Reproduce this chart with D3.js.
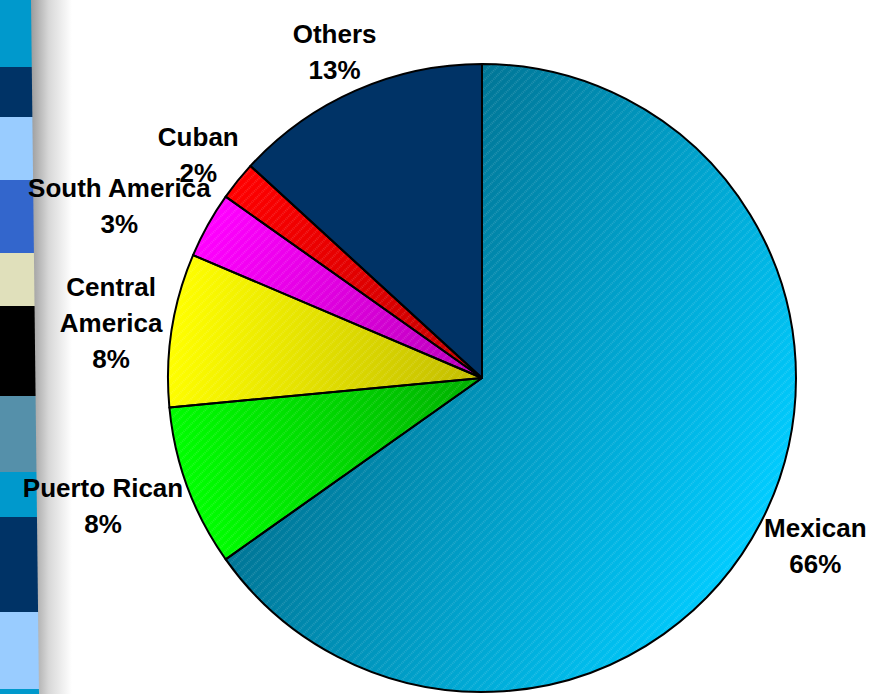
<!DOCTYPE html>
<html>
<head>
<meta charset="utf-8">
<script src="https://cdn.jsdelivr.net/npm/d3@7"></script>
<style>
  html, body { margin: 0; padding: 0; background: #fff; }
  svg { display: block; }
  .label { font-family: "Liberation Sans", Arial, sans-serif; font-weight: bold; font-size: 26px; fill: #000; }
</style>
</head>
<body>
<div id="chart"></div>
<script>
// slice data, clockwise from 12 o'clock
var categories = ["Mexican", "Puerto Rican", "Central America", "South America", "Cuban", "Others"],
    labelLines = [["Mexican"], ["Puerto Rican"], ["Central", "America"], ["South America"], ["Cuban"], ["Others"]],
    shares = [65.2, 8.3, 7.9, 3.4, 2.0, 13.2],
    pctLabels = ["66%", "8%", "8%", "3%", "2%", "13%"],
    rimColors = ["#00ccff", "#00ff00", "#ffff00", "#ff00ff", "#ff0000", "#003366"],
    coreColors = ["#006a88", "#007a00", "#9a9000", "#8a008a", "#990000", "#003366"];

// slide decoration strip on the left (colour, bottom edge)
var stripColors = ["#0099cc", "#003366", "#99ccff", "#3366cc", "#e0e0bb", "#000000",
                   "#5590aa", "#0099cc", "#003366", "#99ccff", "#0099cc"],
    stripEnds = [67, 117, 180, 253, 306, 396, 472, 517, 612, 689, 694];

var width = 880, height = 694,
    cx = 482, cy = 378, radius = 314;

var svg = d3.select("#chart").append("svg")
    .attr("width", width)
    .attr("height", height);

var defs = svg.append("defs");

// shadow next to the strip
var shade = defs.append("linearGradient")
    .attr("id", "stripShade")
    .attr("x1", 0).attr("x2", 1).attr("y1", 0).attr("y2", 0);
shade.append("stop").attr("offset", 0).attr("stop-color", "#999");
shade.append("stop").attr("offset", 0.45).attr("stop-color", "#d8d8d8");
shade.append("stop").attr("offset", 1).attr("stop-color", "#fff");

svg.append("rect")
    .attr("x", 30).attr("y", 0)
    .attr("width", 42).attr("height", height)
    .attr("fill", "url(#stripShade)");

var edgeX = function (y) { return 31 + 8 * y / height; };
svg.append("g").selectAll("path")
    .data(stripColors)
    .enter()
    .append("path")
    .attr("d", function (c, i) {
        var y0 = i ? stripEnds[i - 1] : 0, y1 = stripEnds[i];
        return "M0," + y0 + "L" + edgeX(y0) + "," + y0 + "L" + edgeX(y1) + "," + y1 + "L0," + y1 + "Z";
    })
    .attr("fill", function (c) { return c; });

// hatch overlay
var hatch = defs.append("pattern")
    .attr("id", "hatch")
    .attr("patternUnits", "userSpaceOnUse")
    .attr("width", 6).attr("height", 6)
    .attr("patternTransform", "rotate(45)");
hatch.append("line")
    .attr("x1", 1).attr("y1", 0).attr("x2", 1).attr("y2", 6)
    .attr("stroke", "#fff")
    .attr("stroke-opacity", 0.28)
    .attr("stroke-width", 1)
    .attr("stroke-dasharray", "1,1");

var pie = d3.pie().sort(null).value(function (d) { return d; }),
    arcs = pie(shares),
    arc = d3.arc().innerRadius(0).outerRadius(radius);

var midAngle = function (a) { return (a.startAngle + a.endAngle) / 2; };

// one gradient per slice, dark at the middle, bright at the rim
// (coordinates are in the pie group's space, centred on 0,0)
arcs.forEach(function (a, i) {
    var m = midAngle(a), dx = Math.sin(m), dy = -Math.cos(m);
    var g = defs.append("linearGradient")
        .attr("id", "grad-" + i)
        .attr("gradientUnits", "userSpaceOnUse")
        .attr("x1", -dx * radius * 0.65).attr("y1", -dy * radius * 0.65)
        .attr("x2", dx * radius).attr("y2", dy * radius);
    g.append("stop").attr("offset", 0).attr("stop-color", coreColors[i]);
    g.append("stop").attr("offset", 1).attr("stop-color", rimColors[i]);
});

var pieG = svg.append("g").attr("transform", "translate(" + cx + "," + cy + ")");

pieG.selectAll(".slice")
    .data(arcs)
    .enter()
    .append("path")
    .attr("class", "slice")
    .attr("d", arc)
    .attr("fill", function (d, i) { return "url(#grad-" + i + ")"; });

pieG.selectAll(".hatch")
    .data(arcs)
    .enter()
    .append("path")
    .attr("class", "hatch")
    .attr("d", arc)
    .attr("fill", function (d, i) { return i === arcs.length - 1 ? "none" : "url(#hatch)"; })
    .attr("stroke", "#000")
    .attr("stroke-width", 2)
    .attr("stroke-linejoin", "round");

// labels: box placed just outside the rim along the slice mid angle
var lineH = 36, gap = 10;
arcs.forEach(function (a, i) {
    var lines = labelLines[i].concat([pctLabels[i]]),
        m = midAngle(a), dx = Math.sin(m), dy = -Math.cos(m);
    var t = svg.append("text").attr("class", "label").attr("text-anchor", "middle");
    var spans = lines.map(function (s) { return t.append("tspan").text(s); });
    var w = d3.max(spans, function (s) { return s.node().getComputedTextLength(); }),
        h = lines.length * lineH;
    var ax = cx + dx * (radius + gap), ay = cy + dy * (radius + gap),
        bx = ax + dx * w / 2, by = ay + dy * h / 2;
    spans.forEach(function (s, k) {
        s.attr("x", bx).attr("y", by - h / 2 + lineH / 2 + 12 + k * lineH);
    });
});
</script>
</body>
</html>
